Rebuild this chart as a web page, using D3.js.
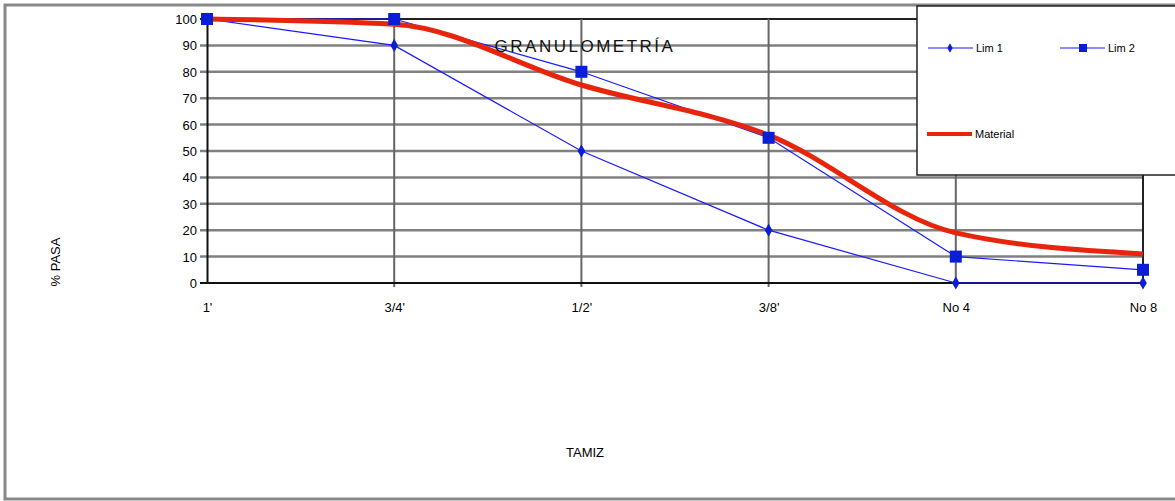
<!DOCTYPE html>
<html><head><meta charset="utf-8">
<script src="https://cdn.jsdelivr.net/npm/d3@7"></script>
<style>body{margin:0;background:#fff;} svg{display:block;font-family:"Liberation Sans",Arial,sans-serif;}</style>
</head><body><svg id="c" width="1175" height="501"></svg>
<script>
const categories = ["1'", "3/4'", "1/2'", "3/8'", "No 4", "No 8"];
const lim1 = [100, 90, 50, 20, 0, 0];
const lim2 = [100, 100, 80, 55, 10, 5];
const material = [100, 98, 75, 56, 19, 11];
const yTicks = [0,10,20,30,40,50,60,70,80,90,100];

const svg = d3.select("#c");
const x = d3.scalePoint().domain(categories).range([207, 1143]);
const y = d3.scaleLinear().domain([0, 100]).range([283, 19]);

// outer frame
svg.append("rect").attr("x",5).attr("y",5).attr("width",1180).attr("height",494)
  .attr("fill","#fff").attr("stroke","#888").attr("stroke-width",3);

// horizontal gridlines
svg.append("g").selectAll("line").data(yTicks.filter(d=>d>0)).join("line")
  .attr("x1",200).attr("x2",1143).attr("y1",d=>y(d)).attr("y2",d=>y(d))
  .attr("stroke", d=>d===100?"#222":"#808080").attr("stroke-width",d=>d===100?2:2.5);
// vertical gridlines
svg.append("g").selectAll("line").data(categories.slice(1)).join("line")
  .attr("x1",d=>x(d)).attr("x2",d=>x(d)).attr("y1",y(100)).attr("y2",y(0)+4)
  .attr("stroke", (d,i)=>i===categories.length-2?"#222":"#666").attr("stroke-width",2);

// axes
const yAxis = d3.axisLeft(y).tickValues(yTicks).tickSize(0).tickPadding(10);
const gy = svg.append("g").attr("transform","translate(207,0)").call(yAxis);
gy.select(".domain").attr("stroke","#111").attr("stroke-width",2);
gy.selectAll("text").attr("font-size",13).attr("fill","#000").attr("dy","0.35em");

const xAxis = d3.axisBottom(x).tickSize(0).tickPadding(20);
const gx = svg.append("g").attr("transform",`translate(0,${y(0)})`).call(xAxis);
gx.select(".domain").attr("stroke","#111").attr("stroke-width",2).attr("d","M200,0H1143");
gx.selectAll("text").attr("font-size",13).attr("fill","#000");

const line = d3.line().x((d,i)=>x(categories[i])).y(d=>y(d));
const smooth = d3.line().x((d,i)=>x(categories[i])).y(d=>y(d)).curve(d3.curveMonotoneX);

svg.append("path").datum(lim1).attr("d",line).attr("fill","none").attr("stroke","#1a1aff").attr("stroke-width",1.2);
svg.append("path").datum(lim2).attr("d",line).attr("fill","none").attr("stroke","#1a1aff").attr("stroke-width",1.2);
svg.append("path").datum(material).attr("d",smooth).attr("fill","none").attr("stroke","#e8250c").attr("stroke-width",5);

svg.append("g").selectAll("path").data(lim1).join("path")
  .attr("d",d3.symbol(d3.symbolDiamond,50)).attr("fill","#0a1ed8")
  .attr("transform",(d,i)=>`translate(${x(categories[i])},${y(d)})`);
svg.append("g").selectAll("rect").data(lim2).join("rect")
  .attr("x",(d,i)=>x(categories[i])-6).attr("y",d=>y(d)-6).attr("width",12).attr("height",12).attr("fill","#0a1ed8");

// title
svg.append("text").attr("x",585).attr("y",52).attr("text-anchor","middle").attr("font-size",17)
  .attr("letter-spacing","2.5px").attr("fill","#111").text("GRANULOMETRÍA");

// axis titles
svg.append("text").attr("transform","translate(60,262) rotate(-90)").attr("text-anchor","middle")
  .attr("font-size",13).attr("fill","#000").text("% PASA");
svg.append("text").attr("x",585).attr("y",457).attr("text-anchor","middle")
  .attr("font-size",13).attr("fill","#000").text("TAMIZ");

// legend
const lg = svg.append("g");
lg.append("rect").attr("x",917).attr("y",6).attr("width",270).attr("height",169)
  .attr("fill","#fff").attr("stroke","#222").attr("stroke-width",1.5);
const legendItems = [
  {name:"Lim 1", x:928, y:48, color:"#1a1aff", w:1.2, marker:"diamond"},
  {name:"Lim 2", x:1060, y:48, color:"#1a1aff", w:1.2, marker:"square"},
  {name:"Material", x:927, y:134, color:"#e8250c", w:4, marker:null}
];
legendItems.forEach(it=>{
  lg.append("line").attr("x1",it.x).attr("x2",it.x+45).attr("y1",it.y).attr("y2",it.y)
    .attr("stroke",it.color).attr("stroke-width",it.w);
  if(it.marker==="diamond") lg.append("path").attr("d",d3.symbol(d3.symbolDiamond,25)).attr("fill","#0a1ed8").attr("transform",`translate(${it.x+22},${it.y})`);
  if(it.marker==="square") lg.append("rect").attr("x",it.x+19).attr("y",it.y-4).attr("width",8).attr("height",8).attr("fill","#0a1ed8");
  lg.append("text").attr("x",it.x+48).attr("y",it.y+4).attr("font-size",11).attr("fill","#000").text(it.name);
});
</script></body></html>
